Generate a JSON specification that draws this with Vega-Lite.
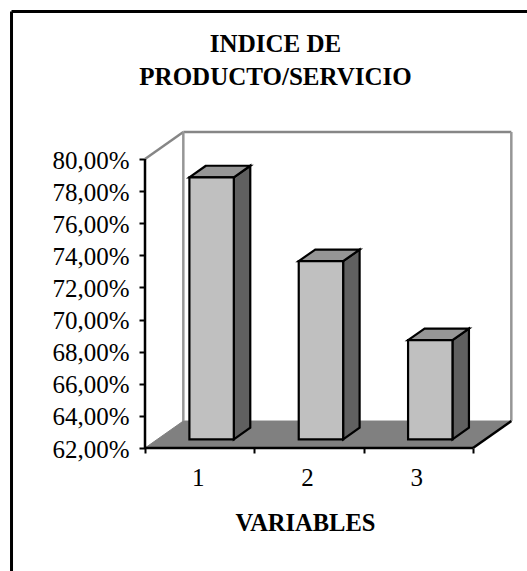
{
"$schema":"https://vega.github.io/schema/vega-lite/v6.json",
"width":527,"height":571,"padding":0,"autosize":{"type":"none"},"background":"white",
"config":{"view":{"stroke":null},"font":"Liberation Serif"},
"resolve":{"axis":{"x":"independent","y":"independent"}},
"title":{"text":["INDICE DE","PRODUCTO/SERVICIO"],"font":"Liberation Serif","fontSize":25,"fontWeight":"bold","color":"black","anchor":"middle","frame":"group","lineHeight":33,"dx":12,"orient":"top","offset":-90},
"data":{"values":[{"variable":1,"indice":78.32},{"variable":2,"indice":73.1},{"variable":3,"indice":68.18}]},
"layer":[
{"data":{"values":[{"depth":0},{"depth":1}]},
 "transform":[{"calculate":"62+datum.depth*1.68","as":"fy"},{"calculate":"0.5+datum.depth*0.3505","as":"fx"},{"calculate":"3.5+datum.depth*0.3505","as":"fx2"}],
 "mark":{"type":"area","orient":"horizontal","fill":"#808080","stroke":"#808080","strokeWidth":1},
 "encoding":{"x":{"field":"fx","type":"quantitative","scale":{"domain":[0.5,3.5],"range":[145,473],"nice":false,"zero":false},
   "axis":{"orient":"bottom","offset":-123,"values":[0.5,1,1.5,2,2.5,3,3.5],"domain":false,"grid":false,"tickSize":5,"tickWidth":2,"tickColor":"black","tickOpacity":{"condition":{"test":"datum.value % 1 === 0","value":0},"value":1},"labelExpr":"datum.value % 1 === 0 ? format(datum.value,'d') : ''","labelFont":"Liberation Serif","labelFontSize":25,"labelColor":"black","labelPadding":12,"labelOffset":-2,"labelOverlap":false,"labelFlush":false,"title":"VARIABLES","titleFont":"Liberation Serif","titleFontSize":24.5,"titleFontWeight":"bold","titleColor":"black","titleX":305,"titleY":75,"titleBaseline":"middle"}},
  "x2":{"field":"fx2"},
  "y":{"field":"fy","type":"quantitative","scale":{"domain":[62,80],"range":[448,159],"nice":false,"zero":false},
   "axis":{"orient":"left","offset":-145,"values":[62,64,66,68,70,72,74,76,78,80],"domain":false,"grid":false,"tickSize":6,"tickWidth":2,"tickColor":"black","labelExpr":"replace(format(datum.value,'.2f'),'.',',')+'%'","labelFont":"Liberation Serif","labelFontSize":25,"labelColor":"black","labelPadding":10,"labelOffset":1,"labelOverlap":false,"labelFlush":false,"title":null}}}},
{"data":{"values":[{"edge":"wall"}]},"mark":{"type":"rule","stroke":"#868686","strokeWidth":2.5},"encoding":{"x":{"datum":0.5,"type":"quantitative","scale":{"domain":[0.5,3.5],"range":[145,473],"nice":false,"zero":false},"axis":null},"x2":{"datum":0.8505},"y":{"datum":80,"type":"quantitative","scale":{"domain":[62,80],"range":[448,159],"nice":false,"zero":false},"axis":null},"y2":{"datum":81.68}}},
{"data":{"values":[{"edge":"wall"}]},"mark":{"type":"rule","stroke":"#868686","strokeWidth":2.5},"encoding":{"x":{"datum":0.8505,"type":"quantitative","scale":{"domain":[0.5,3.5],"range":[145,473],"nice":false,"zero":false},"axis":null},"x2":{"datum":3.8505},"y":{"datum":81.68,"type":"quantitative","scale":{"domain":[62,80],"range":[448,159],"nice":false,"zero":false},"axis":null}}},
{"data":{"values":[{"edge":"wall"}]},"mark":{"type":"rule","stroke":"#969696","strokeWidth":2.5},"encoding":{"x":{"datum":0.8505,"type":"quantitative","scale":{"domain":[0.5,3.5],"range":[145,473],"nice":false,"zero":false},"axis":null},"y":{"datum":63.68,"type":"quantitative","scale":{"domain":[62,80],"range":[448,159],"nice":false,"zero":false},"axis":null},"y2":{"datum":81.68}}},
{"data":{"values":[{"edge":"wall"}]},"mark":{"type":"rule","stroke":"#969696","strokeWidth":2.5},"encoding":{"x":{"datum":3.8505,"type":"quantitative","scale":{"domain":[0.5,3.5],"range":[145,473],"nice":false,"zero":false},"axis":null},"y":{"datum":63.68,"type":"quantitative","scale":{"domain":[62,80],"range":[448,159],"nice":false,"zero":false},"axis":null},"y2":{"datum":81.68}}},
{"data":{"values":[{"edge":"floor"}]},"mark":{"type":"rule","stroke":"black","strokeWidth":2.5},"encoding":{"x":{"datum":3.5,"type":"quantitative","scale":{"domain":[0.5,3.5],"range":[145,473],"nice":false,"zero":false},"axis":null},"x2":{"datum":3.8505},"y":{"datum":62,"type":"quantitative","scale":{"domain":[62,80],"range":[448,159],"nice":false,"zero":false},"axis":null},"y2":{"datum":63.68}}},
{"data":{"values":[{"edge":"axis"}]},"mark":{"type":"rule","stroke":"black","strokeWidth":2.5},"encoding":{"x":{"datum":0.5,"type":"quantitative","scale":{"domain":[0.5,3.5],"range":[145,473],"nice":false,"zero":false},"axis":null},"x2":{"datum":3.5},"y":{"datum":62,"type":"quantitative","scale":{"domain":[62,80],"range":[448,159],"nice":false,"zero":false},"axis":null}}},
{"data":{"values":[{"edge":"axis"}]},"mark":{"type":"rule","stroke":"black","strokeWidth":2.5},"encoding":{"x":{"datum":0.5,"type":"quantitative","scale":{"domain":[0.5,3.5],"range":[145,473],"nice":false,"zero":false},"axis":null},"y":{"datum":62,"type":"quantitative","scale":{"domain":[62,80],"range":[448,159],"nice":false,"zero":false},"axis":null},"y2":{"datum":80}}},
{"transform":[{"calculate":"[0.32,0.75]","as":"d"},{"flatten":["d"]},{"calculate":"datum.variable+0.2+datum.d*0.3505","as":"sx"},{"calculate":"datum.indice+datum.d*1.68","as":"sy"},{"calculate":"62+datum.d*1.68","as":"sy2"}],
 "mark":{"type":"area","orient":"vertical","fill":"#606060","stroke":"black","strokeWidth":2.2,"strokeJoin":"miter"},
 "encoding":{"detail":{"field":"variable","type":"nominal"},"x":{"field":"sx","type":"quantitative","scale":{"domain":[0.5,3.5],"range":[145,473],"nice":false,"zero":false},"axis":null},"y":{"field":"sy","type":"quantitative","scale":{"domain":[62,80],"range":[448,159],"nice":false,"zero":false},"axis":null},"y2":{"field":"sy2"}}},
{"transform":[{"calculate":"[0.32,0.75]","as":"d"},{"flatten":["d"]},{"calculate":"datum.variable-0.206+datum.d*0.3505","as":"tx"},{"calculate":"datum.variable+0.2+datum.d*0.3505","as":"tx2"},{"calculate":"datum.indice+datum.d*1.68","as":"ty"}],
 "mark":{"type":"area","orient":"horizontal","fill":"#969696","stroke":"black","strokeWidth":2.2,"strokeJoin":"miter"},
 "encoding":{"detail":{"field":"variable","type":"nominal"},"x":{"field":"tx","type":"quantitative","scale":{"domain":[0.5,3.5],"range":[145,473],"nice":false,"zero":false},"axis":null},"x2":{"field":"tx2"},"y":{"field":"ty","type":"quantitative","scale":{"domain":[62,80],"range":[448,159],"nice":false,"zero":false},"axis":null}}},
{"transform":[{"calculate":"datum.variable-0.206+0.32*0.3505","as":"bx"},{"calculate":"datum.variable+0.2+0.32*0.3505","as":"bx2"},{"calculate":"datum.indice+0.32*1.68","as":"by"},{"calculate":"62+0.32*1.68","as":"by2"}],
 "mark":{"type":"rect","fill":"#C0C0C0","stroke":"black","strokeWidth":2.2},
 "encoding":{"x":{"field":"bx","type":"quantitative","scale":{"domain":[0.5,3.5],"range":[145,473],"nice":false,"zero":false},"axis":null},"x2":{"field":"bx2"},"y":{"field":"by","type":"quantitative","scale":{"domain":[62,80],"range":[448,159],"nice":false,"zero":false},"axis":null},"y2":{"field":"by2"}}},
{"data":{"values":[{"edge":"frame"}]},"mark":{"type":"rule","stroke":"black","strokeWidth":3},"encoding":{"x":{"datum":-0.7209,"type":"quantitative","scale":{"domain":[0.5,3.5],"range":[145,473],"nice":false,"zero":false},"axis":null},"y":{"datum":54.34,"type":"quantitative","scale":{"domain":[62,80],"range":[448,159],"nice":false,"zero":false},"axis":null},"y2":{"datum":89.19}}},
{"data":{"values":[{"edge":"frame"}]},"mark":{"type":"rule","stroke":"black","strokeWidth":3},"encoding":{"x":{"datum":-0.7209,"type":"quantitative","scale":{"domain":[0.5,3.5],"range":[145,473],"nice":false,"zero":false},"axis":null},"x2":{"datum":4.01},"y":{"datum":89.19,"type":"quantitative","scale":{"domain":[62,80],"range":[448,159],"nice":false,"zero":false},"axis":null}}}
]
}
